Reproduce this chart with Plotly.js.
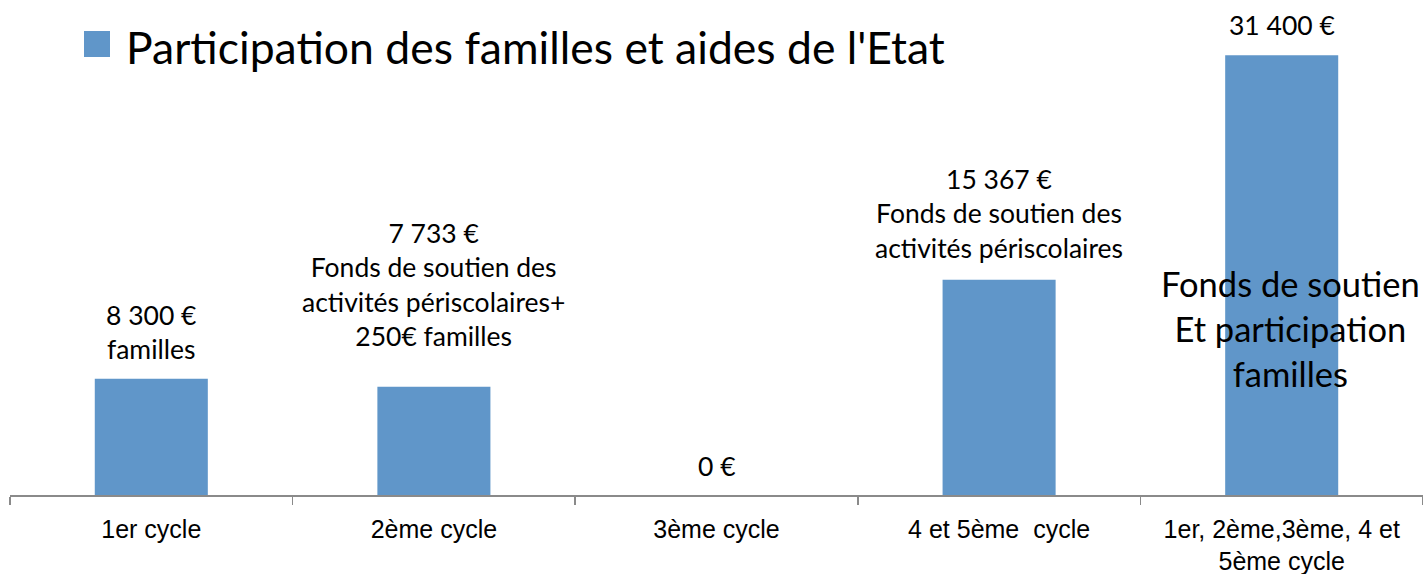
<!DOCTYPE html>
<html>
<head>
<meta charset="utf-8">
<script src="https://cdn.plot.ly/plotly-3.0.1.min.js"></script>
<style>html,body{margin:0;padding:0;background:#fff;}#chart{width:1423px;height:574px;}</style>
</head>
<body>
<div id="chart"></div>
<script>
// ---- data ----
const seriesName = "Participation des familles et aides de l'Etat";
const categories = ["1er cycle", "2ème cycle", "3ème cycle", "4 et 5ème  cycle", "1er, 2ème,3ème, 4 et<br>5ème cycle"];
const values = [8300, 7733, 0, 15367, 31400];
const valueLabels = ["8 300 €<br>familles",
  "7 733 €<br>Fonds de soutien des<br>activités périscolaires+<br>250€ familles",
  "0 €",
  "15 367 €<br>Fonds de soutien des<br>activités périscolaires",
  "31 400 €"];
const noteText = "Fonds de soutien<br>Et participation<br>familles";

// ---- layout / style ----
const W = 1423, H = 574;
const M = {l: 10, r: 0, t: 40, b: 79};
const PW = W - M.l - M.r, PH = H - M.t - M.b;
const px2x = p => (p - M.l) / PW;
const py2y = p => (H - M.b - p) / PH;
const barColor = '#6096C9';
const labelFont = {family: 'Lato, "Open Sans", sans-serif', size: 26.5, color: '#000'};
const labelShift = [12, 33, 11, 14, 12];

const annotations = categories.map((c, i) => ({
  x: c, y: values[i], xref: 'x', yref: 'y', text: valueLabels[i],
  showarrow: false, yanchor: 'bottom', xanchor: 'center', yshift: labelShift[i],
  font: labelFont, align: 'center'
}));
annotations.push({
  x: categories[4], y: py2y(328), xref: 'x', yref: 'paper', text: noteText,
  showarrow: false, yanchor: 'middle', xanchor: 'center', xshift: 9,
  font: {family: 'Lato, "Open Sans", sans-serif', size: 34.5, color: '#000'}, align: 'center'
});
annotations.push({
  x: px2x(124), y: py2y(47), xref: 'paper', yref: 'paper', text: seriesName,
  showarrow: false, xanchor: 'left', yanchor: 'middle',
  font: {family: 'Lato, "Open Sans", sans-serif', size: 44.5, color: '#000'}
});

const trace = {
  type: 'bar', x: categories, y: values, name: seriesName,
  marker: {color: barColor}, hoverinfo: 'none', showlegend: false
};

const layout = {
  width: W, height: H, margin: M,
  paper_bgcolor: '#fff', plot_bgcolor: '#fff',
  bargap: 0.6, showlegend: false,
  xaxis: {
    type: 'category', range: [-0.5, 4.5], showgrid: false, zeroline: false,
    showline: true, linecolor: '#8a8a8a', linewidth: 1.5,
    ticks: 'outside', tickson: 'boundaries', ticklen: 8, tickcolor: '#8a8a8a', tickwidth: 1.5,
    ticklabelstandoff: 11,
    tickfont: {family: '"Liberation Sans", Arial, sans-serif', size: 25, color: '#000'},
    fixedrange: true
  },
  yaxis: {range: [0, 32490], visible: false, showgrid: false, zeroline: false, fixedrange: true},
  shapes: [{type: 'rect', xref: 'paper', yref: 'paper',
    x0: px2x(84), x1: px2x(110), y0: py2y(57), y1: py2y(31),
    fillcolor: barColor, line: {width: 0}}],
  annotations: annotations
};

Plotly.newPlot('chart', [trace], layout, {displayModeBar: false, staticPlot: true});
</script>
</body>
</html>
